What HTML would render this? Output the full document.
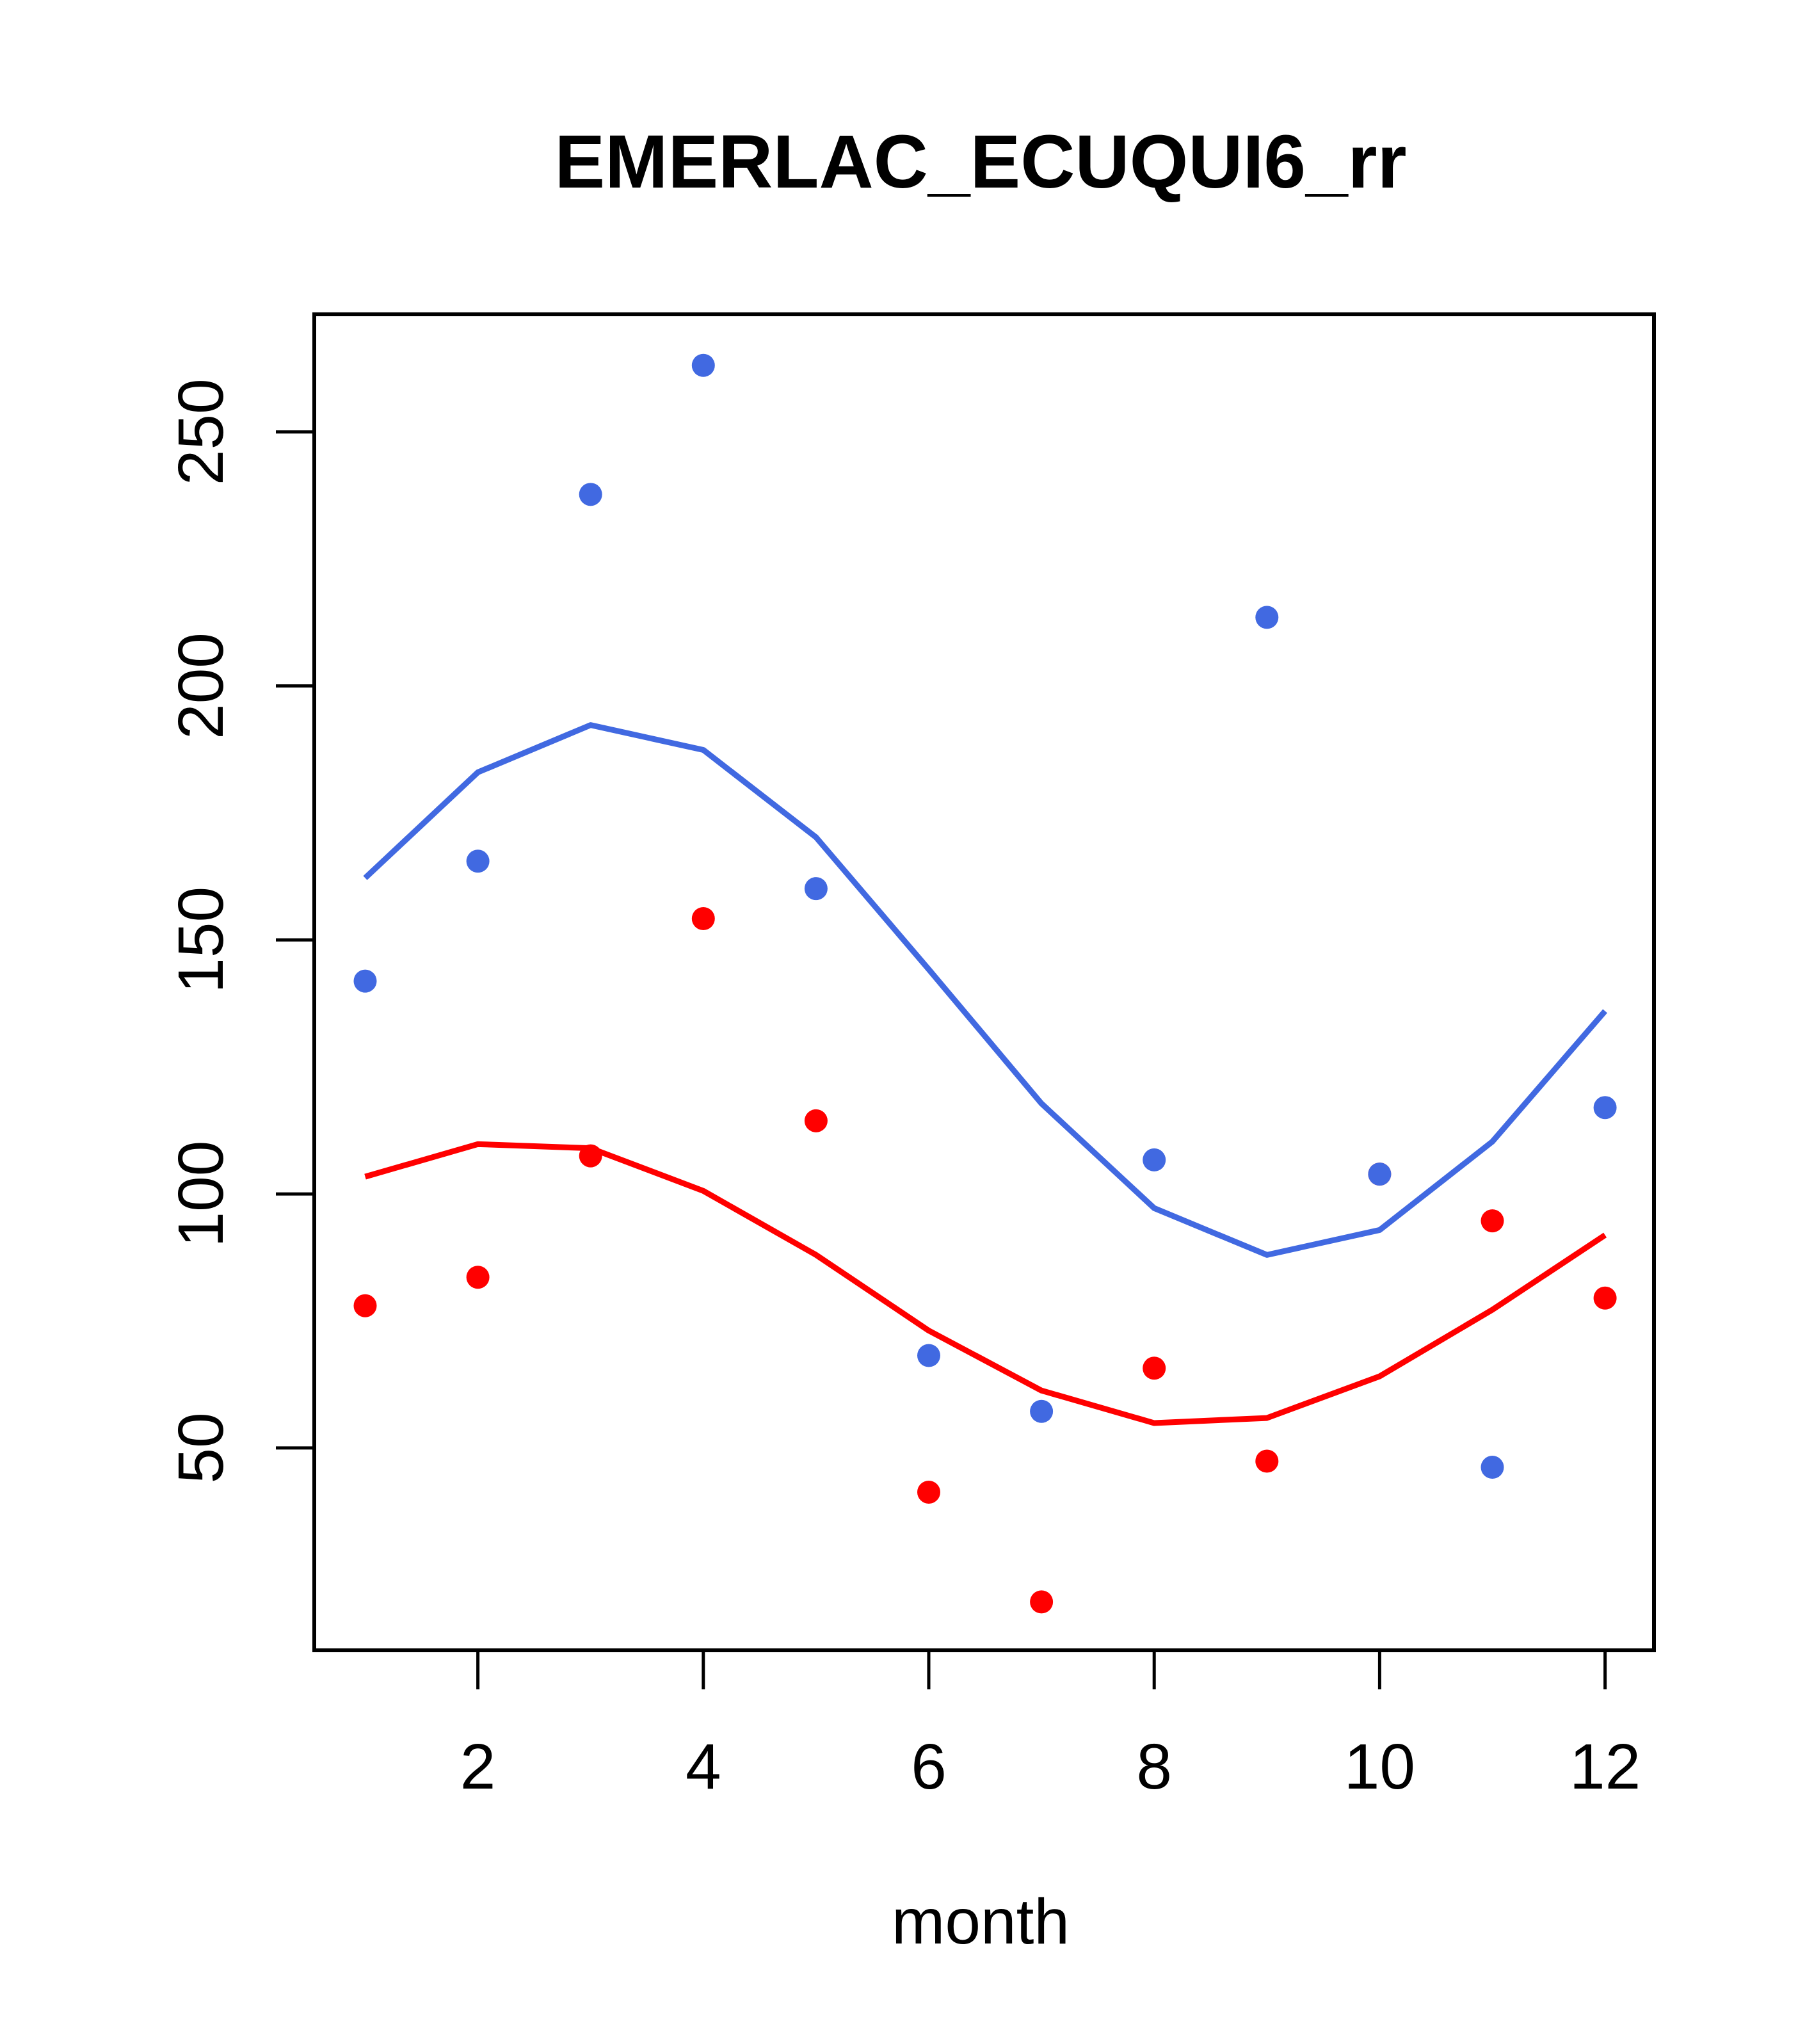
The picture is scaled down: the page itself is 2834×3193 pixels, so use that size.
<!DOCTYPE html>
<html><head><meta charset="utf-8"><style>html,body{margin:0;padding:0;background:#fff}</style></head>
<body>
<svg id="s" xmlns="http://www.w3.org/2000/svg" width="2834" height="3188" viewBox="0 0 2834 3188" font-family="Liberation Sans, sans-serif">
<rect width="2834" height="3188" fill="#fff"/>
<text x="1532" y="293" font-size="118" font-weight="bold" text-anchor="middle">EMERLAC_ECUQUI6_rr</text>
<rect x="491" y="491" width="2093" height="2087" fill="none" stroke="#000" stroke-width="6"/>
<g id="g"></g>
<text x="1532" y="3036" font-size="100" text-anchor="middle">month</text>
</svg>
<script>
var g=document.getElementById('g'),h='';
function X(m){return 570.5+(m-1)*176.1}
function Y(v){return 674.7+(250-v)*7.936}
[2,4,6,8,10,12].forEach(function(m){var x=X(m);h+='<line x1="'+x+'" y1="2578" x2="'+x+'" y2="2639" stroke="#000" stroke-width="5"/><text x="'+x+'" y="2794" font-size="100" text-anchor="middle">'+m+'</text>';});
[50,100,150,200,250].forEach(function(v){var y=Y(v);h+='<line x1="431" y1="'+y+'" x2="491" y2="'+y+'" stroke="#000" stroke-width="5"/><text transform="translate(348,'+y+') rotate(-90)" font-size="100" text-anchor="middle">'+v+'</text>';});
var bl=[162.2,183,192.3,187.4,170.2,144.2,117.8,97.2,88,92.9,110.3,136];
var rl=[103.4,109.8,109,100.6,88,73.1,61.3,54.9,55.9,64.1,77.2,91.9];
var bp=[141.9,165.5,237.7,263.1,160.1,68.2,57.2,106.7,213.5,103.9,46.2,117];
var rp=[78,83.6,107.5,154.2,114.4,41.3,19.7,65.7,47.4,103.9,94.7,79.5];
function pl(a,c){return '<polyline fill="none" stroke="'+c+'" stroke-width="9" stroke-linejoin="round" points="'+a.map(function(v,i){return X(i+1)+','+Y(v)}).join(' ')+'"/>';}
h+=pl(bl,'#4169E1')+pl(rl,'#FF0000');
rp.forEach(function(v,i){h+='<circle cx="'+X(i+1)+'" cy="'+Y(v)+'" r="18" fill="#FF0000"/>';});
bp.forEach(function(v,i){h+='<circle cx="'+X(i+1)+'" cy="'+Y(v)+'" r="18" fill="#4169E1"/>';});
g.innerHTML=h;
</script>
</body></html>
